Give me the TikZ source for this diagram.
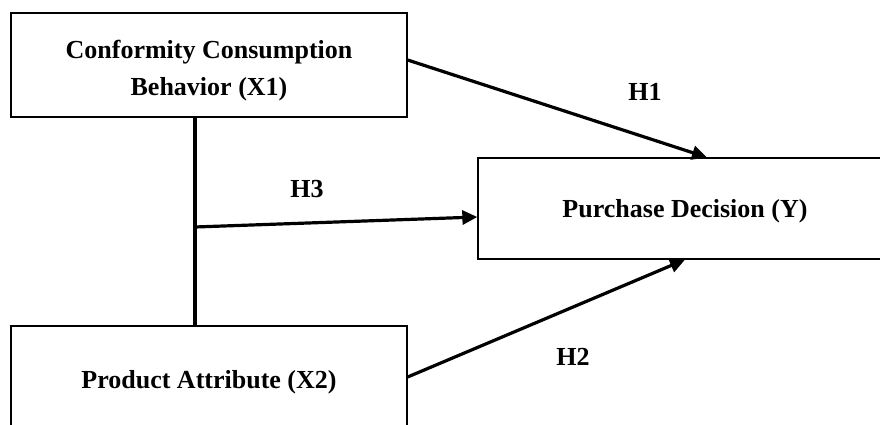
\documentclass[tikz,border=0pt]{standalone}
\usepackage{fontspec}
\setmainfont{Liberation Serif}
\usetikzlibrary{arrows.meta}

\begin{document}
\begin{tikzpicture}[x=0.5pt, y=-0.5pt, >={Triangle[length=7.5pt,width=7pt]},
    var/.style={draw, line width=0.65pt, align=center, inner sep=0pt,
        font=\fontsize{13}{18.5}\selectfont\bfseries},
    hyp/.style={font=\fontsize{13}{15}\selectfont\bfseries},
    link/.style={line width=1.6pt}]
    \useasboundingbox (0,0) rectangle (880,424);
    \clip (0,0) rectangle (880,424);
    % Variables
    \node[var, minimum width=198pt, minimum height=52pt, text height=30.5pt, text depth=0pt] (x1) at (209,65) {Conformity Consumption\\Behavior (X1)};
    \node[var, minimum width=198pt, minimum height=54pt, text depth=0.5pt] (x2) at (209,380) {Product Attribute (X2)};
    \node[var, minimum width=207pt, minimum height=50.5pt, text depth=0pt] (y) at (685,208.5) {Purchase Decision (Y)};
    % Link between X1 and X2
    \coordinate (j) at (195,227);
    \draw[link] (x1.south -| j) -- (x2.north -| j);
    % Hypotheses
    \draw[link, ->] ([yshift=2.5pt]x1.east) -- ([xshift=11pt]y.north);
    \draw[link, ->] ([yshift=1.5pt]x2.east) -- (y.south);
    \draw[link, ->] (j) -- ([yshift=-4.25pt]y.west);
    \node[hyp] (h1) at (645,92) {H1};
    \node[hyp] (h2) at (573,357) {H2};
    \node[hyp] (h3) at (307,189) {H3};
\end{tikzpicture}
\end{document}
